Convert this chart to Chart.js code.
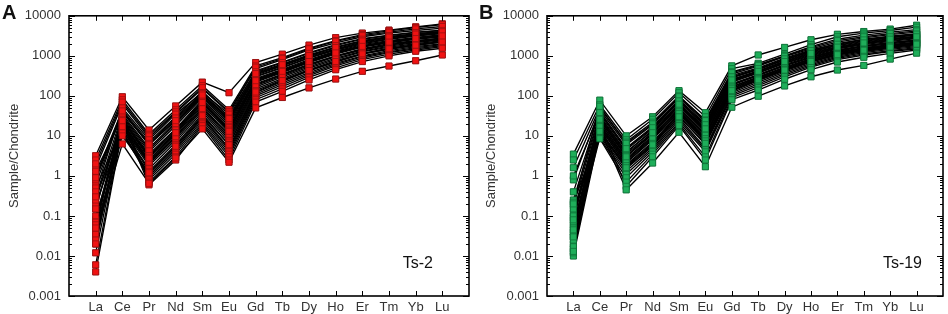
<!DOCTYPE html>
<html lang="en">
<head>
  <meta charset="UTF-8">
  <title>Zircon REE patterns Ts-2 / Ts-19</title>
  <script src="https://cdn.jsdelivr.net/npm/chart.js"></script>
  <style>
    * {
      margin: 0;
      padding: 0;
      box-sizing: border-box;
    }
    body {
      background: #fff;
      width: 948px;
      height: 314px;
      overflow: hidden;
    }
    .panel {
      position: absolute;
      top: 0;
      width: 474px;
      height: 314px;
    }
    #panelA { left: 0; }
    #panelB { left: 474px; }
  </style>
</head>
<body>
  <div class="panel" id="panelA"><canvas id="chartA"></canvas></div>
  <div class="panel" id="panelB"><canvas id="chartB"></canvas></div>

  <script>
    // x categories and log axis ticks
    const elements = ['La', 'Ce', 'Pr', 'Nd', 'Sm', 'Eu', 'Gd', 'Tb', 'Dy', 'Ho', 'Er', 'Tm', 'Yb', 'Lu'];
    const yTickValues = [0.001, 0.01, 0.1, 1, 10, 100, 1000, 10000];
    const yTickLabels = ['0.001', '0.01', '0.1', '1', '10', '100', '1000', '10000'];

    // Ts-2 (panel A), chondrite-normalised, order La..Lu
    const ts2_01 = [3.2, 95, 14, 56, 220, 120, 680, 1100, 1850, 2850, 3700, 4400, 5300, 6300];
    const ts2_02 = [2.5, 80, 11, 45, 180, 45, 560, 900, 1550, 2400, 3400, 4200, 5100, 6000];
    const ts2_03 = [1.6, 62, 9, 38, 150, 38, 480, 800, 1400, 2100, 3000, 3700, 4300, 4900];
    const ts2_04 = [1.0, 45, 7, 30, 130, 30, 420, 700, 1200, 1900, 2700, 3300, 3900, 4400];
    const ts2_05 = [0.6, 40, 6, 26, 110, 25, 380, 620, 1050, 1650, 2400, 3000, 3600, 4100];
    const ts2_06 = [0.3, 35, 5, 22, 100, 22, 330, 560, 950, 1500, 2200, 2800, 3300, 3800];
    const ts2_07 = [0.15, 30, 4, 18, 90, 20, 300, 500, 880, 1400, 2000, 2600, 3100, 3600];
    const ts2_08 = [0.08, 28, 3.5, 15, 80, 18, 270, 460, 800, 1300, 1900, 2400, 2900, 3400];
    const ts2_09 = [0.05, 25, 3, 13, 70, 15, 250, 420, 740, 1200, 1750, 2250, 2700, 3200];
    const ts2_10 = [0.03, 22, 2.5, 11, 60, 12, 220, 380, 680, 1100, 1650, 2100, 2600, 3000];
    const ts2_11 = [0.02, 20, 2.2, 10, 55, 10, 200, 350, 620, 1000, 1500, 2000, 2400, 2800];
    const ts2_12 = [0.012, 18, 2.0, 9, 50, 9, 180, 320, 570, 950, 1400, 1850, 2250, 2600];
    const ts2_13 = [0.006, 16, 1.8, 8, 45, 8, 165, 300, 530, 880, 1300, 1750, 2150, 2500];
    const ts2_14 = [0.004, 14, 1.5, 7, 40, 7, 150, 270, 490, 820, 1250, 1650, 2000, 2400];
    const ts2_15 = [0.5, 15, 1.3, 6, 35, 6, 135, 250, 450, 760, 1150, 1550, 1900, 2300];
    const ts2_16 = [0.2, 13, 1.1, 5, 30, 5, 120, 230, 420, 700, 1100, 1450, 1800, 2200];
    const ts2_17 = [0.1, 12, 1.0, 4.5, 28, 4.5, 110, 210, 380, 650, 1000, 1350, 1700, 2000];
    const ts2_18 = [0.04, 12, 0.9, 4, 25, 4, 100, 190, 350, 600, 950, 1250, 1600, 1900];
    const ts2_19 = [0.07, 20, 0.8, 3.5, 22, 3.5, 90, 170, 320, 560, 880, 1200, 1500, 1800];
    const ts2_20 = [1.3, 30, 0.7, 3, 20, 3, 80, 150, 290, 500, 800, 1100, 1400, 1700];
    const ts2_21 = [0.25, 25, 0.6, 2.5, 18, 2.5, 70, 130, 250, 450, 720, 1000, 1300, 1550];
    const ts2_22 = [0.035, 6.3, 0.65, 2.8, 15, 2.2, 50, 91, 158, 263, 410, 556, 755, 1050];
    const ts2_23 = [2.0, 70, 10, 40, 160, 40, 520, 850, 1500, 2300, 3200, 3900, 4700, 5400];
    const ts2_24 = [0.4, 50, 8, 35, 120, 35, 400, 680, 1150, 1800, 2600, 3200, 3800, 4300];
    const ts2_25 = [0.8, 38, 6.5, 28, 115, 28, 350, 580, 1000, 1600, 2300, 2900, 3400, 3900];
    const ts2_26 = [0.15, 32, 4.5, 20, 95, 24, 310, 520, 900, 1450, 2100, 2700, 3200, 3700];
    const ts2_27 = [0.06, 26, 3.2, 14, 75, 16, 260, 440, 760, 1250, 1800, 2300, 2800, 3300];
    const ts2_28 = [0.025, 21, 2.4, 12, 65, 14, 230, 400, 700, 1150, 1700, 2200, 2650, 3100];
    const ts2_29 = [0.3, 17, 2.2, 9.5, 48, 11, 190, 340, 600, 980, 1450, 1900, 2350, 2700];
    const ts2_30 = [0.05, 10, 1.2, 5.5, 32, 6, 125, 240, 430, 720, 1120, 1500, 1850, 2250];
    const ts2_31 = [0.9, 42, 6, 24, 105, 27, 360, 600, 1020, 1620, 2350, 2950, 3500, 4000];
    const ts2_32 = [0.02, 24, 2.8, 12, 68, 13, 240, 410, 720, 1180, 1720, 2200, 2700, 3150];

    // Ts-19 (panel B)
    const ts19_01 = [3.5, 78, 10, 30, 135, 38, 560, 1050, 1620, 2520, 3450, 4050, 4650, 5800];
    const ts19_02 = [2.5, 60, 8, 26, 120, 30, 480, 650, 1100, 1900, 3000, 3700, 4300, 5200];
    const ts19_03 = [1.6, 50, 7, 22, 100, 25, 400, 600, 1000, 1700, 2600, 3300, 3900, 4500];
    const ts19_04 = [0.8, 45, 6, 19, 90, 22, 350, 550, 950, 1500, 2200, 2800, 3400, 3900];
    const ts19_05 = [0.4, 40, 5, 17, 80, 20, 320, 500, 880, 1400, 2000, 2600, 3100, 3600];
    const ts19_06 = [0.25, 35, 4.5, 15, 70, 18, 290, 460, 800, 1300, 1850, 2400, 2900, 3400];
    const ts19_07 = [0.18, 32, 4, 13, 65, 16, 260, 420, 740, 1200, 1700, 2200, 2700, 3100];
    const ts19_08 = [0.12, 28, 3.5, 12, 60, 14, 240, 400, 700, 1100, 1600, 2050, 2500, 2900];
    const ts19_09 = [0.09, 25, 3, 11, 55, 12, 220, 370, 650, 1000, 1500, 1900, 2300, 2700];
    const ts19_10 = [0.06, 22, 2.7, 10, 50, 11, 200, 340, 600, 950, 1400, 1800, 2150, 2500];
    const ts19_11 = [0.04, 20, 2.4, 9, 45, 10, 185, 320, 560, 900, 1300, 1700, 2000, 2350];
    const ts19_12 = [0.03, 18, 2.1, 8, 42, 9, 170, 300, 520, 850, 1250, 1600, 1900, 2200];
    const ts19_13 = [0.02, 16, 1.9, 7, 38, 8, 155, 280, 480, 800, 1180, 1500, 1800, 2100];
    const ts19_14 = [0.015, 14, 1.7, 6, 35, 7, 140, 260, 450, 750, 1100, 1420, 1700, 2000];
    const ts19_15 = [0.01, 12, 1.5, 5.5, 32, 6, 130, 240, 420, 700, 1050, 1350, 1600, 1900];
    const ts19_16 = [0.22, 11, 1.3, 5, 28, 5, 120, 220, 390, 650, 980, 1280, 1550, 1800];
    const ts19_17 = [0.07, 10, 1.1, 4.5, 25, 4.5, 110, 200, 360, 600, 920, 1200, 1450, 1700];
    const ts19_18 = [0.025, 9, 0.9, 4, 22, 4, 100, 180, 330, 560, 860, 1120, 1350, 1600];
    const ts19_19 = [0.15, 8.5, 0.7, 3.5, 20, 3, 90, 160, 300, 520, 800, 1050, 1280, 1500];
    const ts19_20 = [0.05, 20, 0.55, 3, 18, 2.5, 80, 140, 260, 450, 700, 920, 1150, 1400];
    const ts19_21 = [0.012, 15, 0.45, 2.1, 12.3, 1.7, 52, 98, 177, 300, 442, 575, 830, 1170];
    const ts19_22 = [0.035, 30, 3.8, 14, 75, 17, 280, 450, 780, 1250, 1800, 2300, 2800, 3300];
    const ts19_23 = [0.1, 27, 3.2, 11.5, 58, 13, 230, 380, 670, 1050, 1550, 2000, 2400, 2800];
    const ts19_24 = [0.017, 23, 2.5, 9.5, 48, 10.5, 190, 330, 580, 920, 1350, 1750, 2100, 2450];
    const ts19_25 = [0.045, 19, 2.2, 8.5, 40, 8.5, 165, 290, 500, 830, 1220, 1550, 1850, 2150];
    const ts19_26 = [0.013, 17, 1.8, 6.5, 36, 7.5, 150, 270, 460, 770, 1130, 1450, 1750, 2050];
    const ts19_27 = [0.2, 55, 6.5, 20, 95, 24, 380, 580, 980, 1600, 2400, 3000, 3600, 4200];
    const ts19_28 = [0.03, 13, 1.6, 6, 30, 6.5, 135, 250, 440, 720, 1070, 1380, 1650, 1950];
    const ts19_29 = [1.0, 38, 4.8, 16, 75, 19, 300, 480, 840, 1350, 1950, 2500, 3000, 3500];
    const ts19_30 = [0.08, 26, 3.0, 12, 62, 15, 250, 410, 720, 1150, 1650, 2100, 2600, 3000];

    const ts2Samples = [ts2_01, ts2_02, ts2_03, ts2_04, ts2_05, ts2_06, ts2_07, ts2_08, ts2_09, ts2_10,
      ts2_11, ts2_12, ts2_13, ts2_14, ts2_15, ts2_16, ts2_17, ts2_18, ts2_19, ts2_20,
      ts2_21, ts2_22, ts2_23, ts2_24, ts2_25, ts2_26, ts2_27, ts2_28, ts2_29, ts2_30, ts2_31, ts2_32];
    const ts19Samples = [ts19_01, ts19_02, ts19_03, ts19_04, ts19_05, ts19_06, ts19_07, ts19_08, ts19_09, ts19_10,
      ts19_11, ts19_12, ts19_13, ts19_14, ts19_15, ts19_16, ts19_17, ts19_18, ts19_19, ts19_20,
      ts19_21, ts19_22, ts19_23, ts19_24, ts19_25, ts19_26, ts19_27, ts19_28, ts19_29, ts19_30];

    const FONT = '"Liberation Sans", Arial, sans-serif';
    Chart.defaults.font.family = FONT;

    function makeDatasets(samples, fill, edge) {
      return samples.map((vals, k) => ({
        label: 'spot ' + (k + 1),
        data: vals.map((v, i) => ({ x: i, y: v })),
        borderColor: '#000',
        borderWidth: 1.35,
        pointStyle: 'rect',
        pointRadius: 4.3,
        pointBackgroundColor: fill,
        pointBorderColor: edge,
        pointBorderWidth: 0.7,
        tension: 0
      }));
    }

    // markers on top, closed frame, inward ticks, panel letter and sample name
    const framePlugin = {
      id: 'frame',
      afterDatasetsDraw(chart) {
        const ctx = chart.ctx;
        chart.data.datasets.forEach((ds, i) => {
          chart.getDatasetMeta(i).data.forEach(pt => pt.draw(ctx, chart.chartArea));
        });
      },
      afterDraw(chart, args, opts) {
        const ctx = chart.ctx;
        const { left, right, top, bottom } = chart.chartArea;
        const xs = chart.scales.x, ys = chart.scales.y;
        ctx.save();
        ctx.strokeStyle = '#000';
        ctx.lineWidth = 1;
        ctx.beginPath();
        elements.forEach((e, i) => {
          const px = Math.round(xs.getPixelForValue(i)) + 0.5;
          ctx.moveTo(px, bottom); ctx.lineTo(px, bottom - 5);
          ctx.moveTo(px, top); ctx.lineTo(px, top + 5);
        });
        for (let d = -3; d <= 4; d++) {
          for (let m = 1; m <= 9; m++) {
            const v = m * Math.pow(10, d);
            if (v > 10000) break;
            const py = Math.round(ys.getPixelForValue(v)) + 0.5;
            const len = m === 1 ? 6 : 3;
            ctx.moveTo(left, py); ctx.lineTo(left + len, py);
            ctx.moveTo(right, py); ctx.lineTo(right - len, py);
          }
        }
        ctx.stroke();
        ctx.lineWidth = 1.6;
        ctx.strokeRect(left, top, right - left, bottom - top);

        ctx.fillStyle = '#111';
        ctx.textBaseline = 'alphabetic';
        ctx.textAlign = 'left';
        ctx.font = 'bold 20px ' + FONT;
        ctx.fillText(opts.letter, opts.letterX, 19);
        ctx.textAlign = 'right';
        ctx.font = '16px ' + FONT;
        ctx.fillText(opts.tag, opts.tagRight, 268);
        ctx.restore();
      }
    };

    function makeChart(id, samples, fill, edge, yWidth, padRight, titlePad, letter, letterX, tag, tagRight) {
      return new Chart(document.getElementById(id), {
        type: 'line',
        data: { datasets: makeDatasets(samples, fill, edge) },
        options: {
          responsive: true,
          maintainAspectRatio: false,
          animation: false,
          layout: { padding: { top: 15, right: padRight, bottom: 0, left: 0 } },
          plugins: {
            legend: { display: false },
            tooltip: { enabled: false },
            frame: { letter: letter, letterX: letterX, tag: tag, tagRight: tagRight }
          },
          scales: {
            x: {
              type: 'linear',
              min: -1,
              max: 14,
              afterBuildTicks: s => { s.ticks = elements.map((e, i) => ({ value: i })); },
              afterFit: s => { s.height = 18; },
              grid: { display: false, drawTicks: false },
              border: { display: false },
              ticks: {
                callback: v => elements[v] ?? '',
                font: { size: 13 },
                color: '#333',
                padding: 4,
                maxRotation: 0,
                autoSkip: false
              }
            },
            y: {
              type: 'logarithmic',
              min: 0.001,
              max: 10000,
              afterBuildTicks: s => { s.ticks = yTickValues.map(v => ({ value: v })); },
              afterFit: s => { s.width = yWidth; },
              grid: { display: false, drawTicks: false },
              border: { display: false },
              ticks: {
                callback: v => yTickLabels[yTickValues.indexOf(v)] ?? '',
                font: { size: 13 },
                color: '#333',
                padding: 8,
                autoSkip: false
              },
              title: {
                display: true,
                text: 'Sample/Chondrite',
                font: { size: 13 },
                color: '#333',
                padding: { top: titlePad, bottom: 0 }
              }
            }
          }
        },
        plugins: [framePlugin]
      });
    }

    makeChart('chartA', ts2Samples, '#f01212', '#8c1010', 69, 5, 7, 'A', 2, 'Ts-2', 433);
    makeChart('chartB', ts19Samples, '#1fae5a', '#0c6a34', 73, 4, 10, 'B', 5, 'Ts-19', 448);
  </script>
</body>
</html>
